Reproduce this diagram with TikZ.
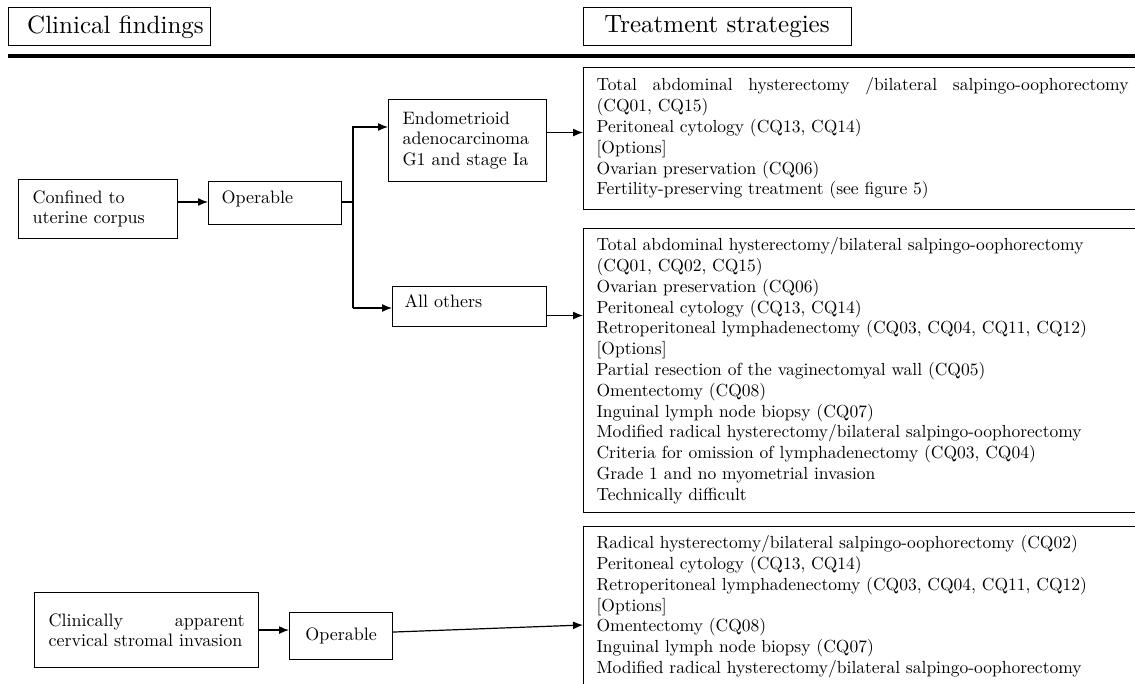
\documentclass[tikz,border=0pt]{standalone}
\usepackage{fontspec}
\setmainfont{lmroman10-regular.otf}
\usetikzlibrary{arrows.meta,positioning}
\begin{document}
\begin{tikzpicture}[x=1pt, y=-1pt,
every node/.style={font=\fontsize{17.5}{20.8}\selectfont},
header/.style={draw, line width=1pt, minimum height=38pt, inner sep=0pt, font=\fontsize{25}{30}\selectfont},
finding/.style={draw, line width=1.1pt, align=left, inner xsep=14pt, anchor=north west, font=\fontsize{18}{20.5}\selectfont},
strategy/.style={draw, line width=1.1pt, align=left, text width=545pt, inner xsep=13pt, inner ysep=9pt, anchor=north west},
arr/.style={line width=1.2pt, -{Latex[length=10pt, width=8pt]}},
link/.style={line width=1.2pt},
]
\useasboundingbox (0,0) rectangle (1135,684);
\clip (0,0) rectangle (1135,684);

\node[header, minimum width=202pt] (clinhead) at (109,27) {\hspace*{13pt}Clinical findings};
\node[header, minimum width=268pt] (treathead) at (717,27) {Treatment strategies};
\draw[line width=4.5pt] (8,56) -- (1140,56);

\node[finding, text width=131pt, minimum height=59pt] (conf) at (18,179) {Confined to\\uterine corpus};
\node[finding, text width=107pt, inner xsep=13pt, minimum height=43pt, text depth=12.5pt] (opA) at (208,181) {Operable};
\node[finding, text width=130pt, minimum height=82pt] (endo) at (388,99) {Endometrioid\\adenocarcinoma\\G1 and stage Ia};
\node[finding, text width=130pt, inner xsep=12pt, minimum height=40pt, text depth=10.5pt] (allo) at (392,286) {All others};

\node[strategy, minimum height=142pt] (boxA) at (583,67) {%
\makebox[532pt][l]{Total\hfill abdominal\hfill hysterectomy\hfill /bilateral\hfill salpingo-oophorectomy}\\
(CQ01, CQ15)\\
Peritoneal cytology (CQ13, CQ14)\\
{[Options]}\\
Ovarian preservation (CQ06)\\
Fertility-preserving treatment (see figure 5)};
\node[strategy, minimum height=278pt] (boxB) at (583,228) {%
Total abdominal hysterectomy/bilateral salpingo-oophorectomy\\
(CQ01, CQ02, CQ15)\\
Ovarian preservation (CQ06)\\
Peritoneal cytology (CQ13, CQ14)\\
Retroperitoneal lymphadenectomy (CQ03, CQ04, CQ11, CQ12)\\
{[Options]}\\
Partial resection of the vaginectomyal wall (CQ05)\\
Omentectomy (CQ08)\\
Inguinal lymph node biopsy (CQ07)\\
Modified radical hysterectomy/bilateral salpingo-oophorectomy\\
Criteria for omission of lymphadenectomy (CQ03, CQ04)\\
Grade 1 and no myometrial invasion\\
Technically difficult};

\node[finding, text width=196pt, minimum height=75pt] (clin) at (34,592) {\makebox[196pt][l]{Clinically\hfill apparent}\\cervical stromal invasion};
\node[finding, text width=79pt, inner xsep=12pt, minimum height=47pt, align=center] (opB) at (289,612) {Operable};
\node[strategy] (boxC) at (583,526) {%
Radical hysterectomy/bilateral salpingo-oophorectomy (CQ02)\\
Peritoneal cytology (CQ13, CQ14)\\
Retroperitoneal lymphadenectomy (CQ03, CQ04, CQ11, CQ12)\\
{[Options]}\\
Omentectomy (CQ08)\\
Inguinal lymph node biopsy (CQ07)\\
Modified radical hysterectomy/bilateral salpingo-oophorectomy\\[8pt]};

\coordinate (fork) at (353,202);
\coordinate (forktop) at (353,127);
\coordinate (forkbot) at (353,308);

\draw[arr] (conf.east |- fork) -- (opA.west |- fork);
\draw[link] (opA.east |- fork) -- (fork);
\draw[arr] (forkbot) -- (forktop) -- (forktop -| endo.west);
\draw[arr] (forkbot) -- (forkbot -| allo.west);
\draw[arr] ([yshift=8pt]endo.east) -- ([yshift=8pt]endo.east -| boxA.west);
\draw[arr] ([yshift=-9pt]allo.east) -- ([yshift=-9pt]allo.east -| boxB.west);
\draw[arr] (clin.east) -- (clin.east -| opB.west);
\draw[arr] ([yshift=4pt]opB.east) -- (boxC.west |- 0,625);
\end{tikzpicture}
\end{document}
